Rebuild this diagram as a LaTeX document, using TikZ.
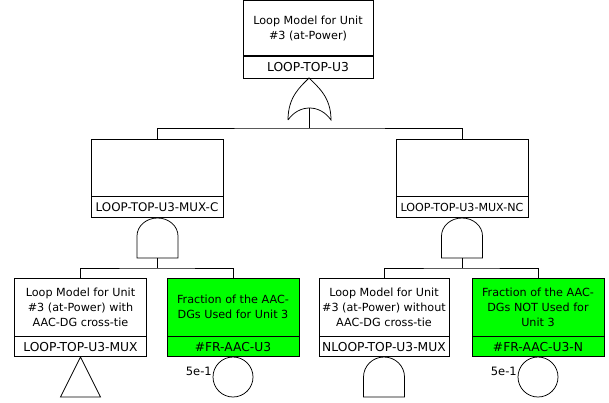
\documentclass[tikz,border=0pt]{standalone}
\usepackage{fontspec}
\setmainfont{DejaVu Sans}
\definecolor{evgreen}{RGB}{0,255,0}

\begin{document}
\begin{tikzpicture}[
    x=1pt,y=-1pt,
    every path/.style={line width=0.75pt},
    desc/.style={draw,fill=white,align=center,inner sep=0pt,
        font=\fontsize{11.2}{15}\selectfont,minimum width=132pt,minimum height=58pt},
    ident/.style={draw,fill=white,inner sep=0pt,anchor=north,
        font=\fontsize{12.3}{14}\selectfont,minimum width=132pt,minimum height=20pt},
    basic/.style={fill=evgreen},
    prob/.style={anchor=south east,inner sep=0.5pt,font=\fontsize{11.5}{13}\selectfont},
]
\useasboundingbox (0,0) rectangle (609,402);

% Top event
\node[desc,minimum width=130pt,minimum height=55pt] (top) at (308,28) {Loop Model for Unit\\\#3 (at-Power)};
\node[ident,minimum width=130pt,minimum height=22pt] (topid) at (top.south) {LOOP-TOP-U3};

% OR gate
\draw (288,120) .. controls (288,97) and (300,87) .. (309,78)
    .. controls (318,87) and (331,97) .. (331,120)
    .. controls (320,104) and (299,104) .. (288,120);
\coordinate (orout) at (309.5,108);

% Intermediate events
\node[desc,minimum height=57pt] (mlc) at (157,167.5) {};
\node[ident,minimum height=21pt,font=\fontsize{11.9}{14}\selectfont] (mlcid) at (mlc.south) {LOOP-TOP-U3-MUX-C};
\node[desc,minimum height=57pt] (mrc) at (462,167.5) {};
\node[ident,minimum height=21pt,font=\fontsize{11.1}{14}\selectfont] (mrcid) at (mrc.south) {LOOP-TOP-U3-MUX-NC};

\draw (orout) -- ++(0,20) coordinate (busA);
\draw (mlc.north) |- (busA) -| (mrc.north);

% AND gates
\draw (137,258) -- (137,236) arc[start angle=180,end angle=0,x radius=20.5pt,y radius=18pt] -- (178,258) -- cycle;
\coordinate (andL) at (157.5,258);
\draw (441.5,258) -- (441.5,236) arc[start angle=180,end angle=0,x radius=20.5pt,y radius=18pt] -- (482.5,258) -- cycle;
\coordinate (andR) at (462,258);

% Bottom events
\node[desc] (bl1) at (80.5,307) {Loop Model for Unit\\\#3 (at-Power) with\\AAC-DG cross-tie};
\node[ident] (bl1id) at (bl1.south) {LOOP-TOP-U3-MUX};
\node[desc,basic] (bl2) at (233,307) {Fraction of the AAC-\\DGs Used for Unit 3};
\node[ident,basic] (bl2id) at (bl2.south) {\#FR-AAC-U3};
\node[desc,minimum width=130pt] (br1) at (384,307) {Loop Model for Unit\\\#3 (at-Power) without\\AAC-DG cross-tie};
\node[ident,minimum width=130pt] (br1id) at (br1.south) {NLOOP-TOP-U3-MUX};
\node[desc,basic] (br2) at (538,307) {Fraction of the AAC-\\DGs NOT Used for\\Unit 3};
\node[ident,basic] (br2id) at (br2.south) {\#FR-AAC-U3-N};

\draw (andL) -- ++(0,10) coordinate (busB);
\draw (bl1.north) |- (busB) -| (bl2.north);
\draw (andR) -- ++(0,10) coordinate (busC);
\draw (br1.north) |- (busC) -| (br2.north);

% Transfer triangle
\draw (80.5,357) -- (100.5,397) -- (60.5,397) -- cycle;

% House-like gate under NLOOP
\draw (363.5,397) -- (363.5,377) arc[start angle=180,end angle=0,x radius=20.5pt,y radius=20pt] -- (404.5,397) -- cycle;

% Basic events
\node[draw,circle,minimum size=40pt,inner sep=0pt] (p1) at (233,377) {};
\node[prob] (p1lab) at (p1.west) {5e-1};
\node[draw,circle,minimum size=40pt,inner sep=0pt] (p2) at (538,377) {};
\node[prob] (p2lab) at (p2.west) {5e-1};
\end{tikzpicture}
\end{document}
